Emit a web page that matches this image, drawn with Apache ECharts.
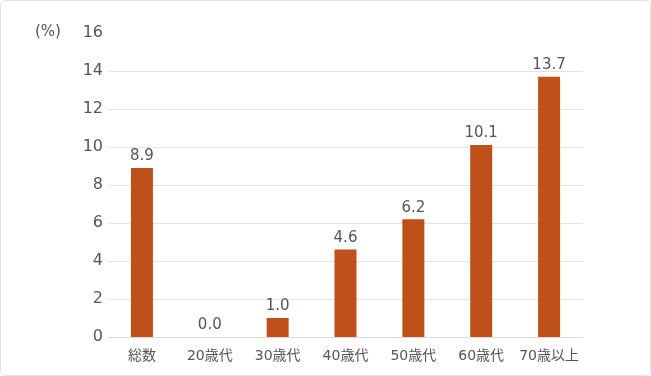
<!DOCTYPE html>
<html>
<head>
<meta charset="utf-8">
<script src="https://cdn.jsdelivr.net/npm/echarts@6/dist/echarts.min.js"></script>
<style>
  html, body { margin: 0; padding: 0; background: #fff; }
  #main { width: 649px; height: 374px; border: 1px solid #e2e2e2; border-radius: 6px; }
</style>
</head>
<body>
<div id="main"></div>
<script>
  // データ
  var categories = ['総数', '20歳代', '30歳代', '40歳代', '50歳代', '60歳代', '70歳以上'];
  var values = [8.9, 0.0, 1.0, 4.6, 6.2, 10.1, 13.7];
  var yTicks = [0, 2, 4, 6, 8, 10, 12, 14, 16];

  var chart = echarts.init(document.getElementById('main'));
  var font = '"DejaVu Sans", "Noto Sans CJK JP", sans-serif';
  var option = {
    animation: false,
    textStyle: { fontFamily: font },
    grid: { left: 107, right: 67, top: 32, bottom: 38 },
    graphic: [{
      type: 'text',
      left: 34,
      top: 24,
      style: { text: '(%)', font: '15px ' + font, fill: '#555' }
    }],
    xAxis: {
      type: 'category',
      data: categories,
      axisLine: { show: true, lineStyle: { color: '#dcdcdc' } },
      axisTick: { show: false },
      axisLabel: { color: '#555', fontSize: 14, margin: 12, interval: 0 }
    },
    yAxis: {
      type: 'value',
      min: yTicks[0],
      max: yTicks[yTicks.length - 1],
      interval: 2,
      axisLine: { show: false },
      axisTick: { show: false },
      axisLabel: { color: '#555', fontSize: 16, margin: 5 },
      splitLine: {
        lineStyle: {
          color: ['#e4e4e4', '#e4e4e4', '#e4e4e4', '#e4e4e4', '#e4e4e4', '#e4e4e4', '#e4e4e4', '#e4e4e4', 'rgba(0,0,0,0)']
        }
      }
    },
    series: [{
      type: 'bar',
      data: values,
      barWidth: 22,
      itemStyle: { color: '#c0501a' },
      label: {
        show: true,
        position: 'top',
        distance: 4,
        color: '#555',
        fontSize: 15,
        formatter: function (p) { return p.value.toFixed(1); }
      }
    }]
  };
  chart.setOption(option);
</script>
</body>
</html>
